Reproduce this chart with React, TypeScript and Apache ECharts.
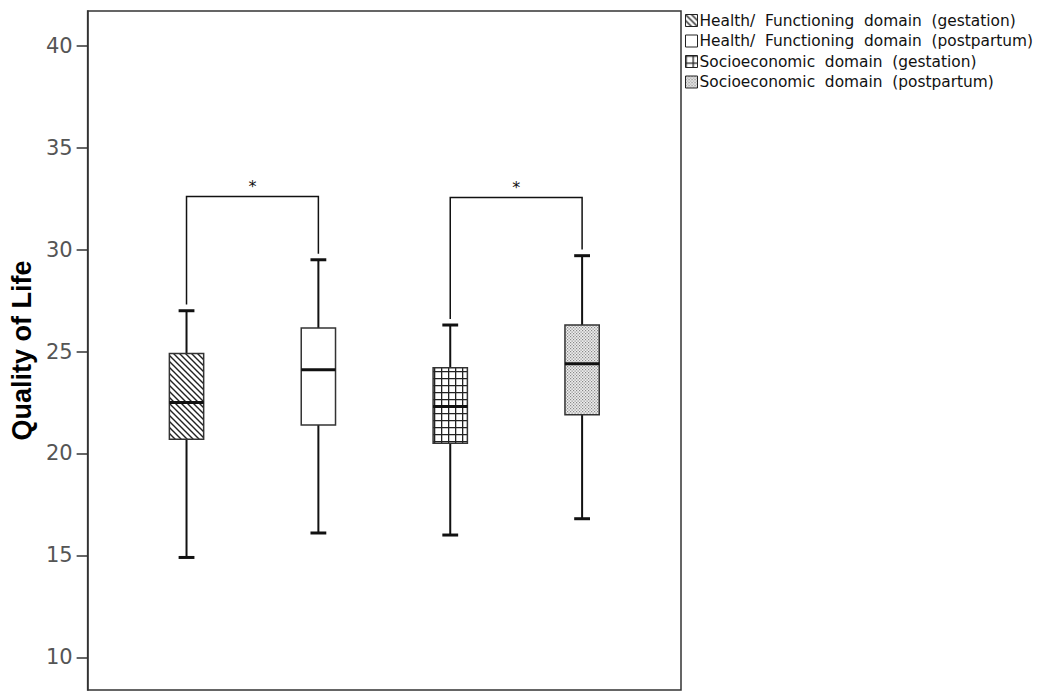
import React, { useEffect, useRef } from "react";
import * as echarts from "echarts";

const groupNames = [
  "Health/  Functioning  domain  (gestation)",
  "Health/  Functioning  domain  (postpartum)",
  "Socioeconomic  domain  (gestation)",
  "Socioeconomic  domain  (postpartum)",
];
const positions = [0.75, 1.75, 2.75, 3.75];
const whiskerLow = [14.9, 16.1, 16.0, 16.8];
const q1Values = [20.7, 21.4, 20.5, 21.9];
const medianValues = [22.5, 24.1, 22.3, 24.4];
const q3Values = [24.9, 26.15, 24.2, 26.3];
const whiskerHigh = [27.0, 29.5, 26.3, 29.7];

const yTicks = [10, 15, 20, 25, 30, 35, 40];

const bracketFrom = [0, 2];
const bracketTo = [1, 3];
const bracketLeftEnd = [27.3, 26.6];
const bracketRightEnd = [29.8, 30.0];
const bracketTop = [32.6, 32.55];
const bracketLabel = ["*", "*"];

const svgUrl = (s: string) => "data:image/svg+xml;charset=utf-8," + encodeURIComponent(s);

const patterns = [
  {
    image: svgUrl(
      '<svg xmlns="http://www.w3.org/2000/svg" width="6" height="6"><rect width="6" height="6" fill="#fff"/><path d="M-1,-1 L7,7 M-4,2 L2,8 M2,-4 L8,2" stroke="#222" stroke-width="1.4"/></svg>'
    ),
    imageWidth: 6,
    imageHeight: 6,
    repeat: "repeat",
  },
  "#ffffff",
  {
    image: svgUrl(
      '<svg xmlns="http://www.w3.org/2000/svg" width="7" height="7"><rect width="7" height="7" fill="#fff"/><path d="M0,0.6 H7 M0.6,0 V7" stroke="#222" stroke-width="1.4"/></svg>'
    ),
    imageWidth: 7,
    imageHeight: 7,
    repeat: "repeat",
  },
  {
    image: svgUrl(
      '<svg xmlns="http://www.w3.org/2000/svg" width="3" height="3"><rect width="3" height="3" fill="#eeeeee"/><rect x="0" y="0" width="1.2" height="1.2" fill="#888"/><rect x="1.5" y="1.5" width="1.2" height="1.2" fill="#888"/></svg>'
    ),
    imageWidth: 3,
    imageHeight: 3,
    repeat: "repeat",
  },
];

const BOX_W = 0.26;
const CAP_W = 0.12;

export default function App() {
  const ref = useRef<HTMLDivElement>(null);
  useEffect(() => {
    if (!ref.current) return;
    const chart = echarts.init(ref.current, null, { renderer: "svg" });

    const boxSeries = groupNames.map((name, i) => ({
      type: "custom",
      name,
      itemStyle: { color: patterns[i] as any, borderColor: "#222", borderWidth: 1 },
      data: [[positions[i], whiskerLow[i], q1Values[i], medianValues[i], q3Values[i], whiskerHigh[i]]],
      renderItem: (params: any, api: any) => {
        const x = api.value(0);
        const lo = api.coord([x, api.value(1)]);
        const q1 = api.coord([x, api.value(2)]);
        const med = api.coord([x, api.value(3)]);
        const q3 = api.coord([x, api.value(4)]);
        const hi = api.coord([x, api.value(5)]);
        const bw = api.size([BOX_W, 0])[0];
        const cw = api.size([CAP_W, 0])[0];
        const cx = lo[0];
        const line = (x1: number, y1: number, x2: number, y2: number, w: number) => ({
          type: "line",
          shape: { x1, y1, x2, y2 },
          style: { stroke: "#111", lineWidth: w },
        });
        return {
          type: "group",
          children: [
            line(cx, hi[1], cx, q3[1], 2),
            line(cx, q1[1], cx, lo[1], 2),
            line(cx - cw / 2, hi[1], cx + cw / 2, hi[1], 3),
            line(cx - cw / 2, lo[1], cx + cw / 2, lo[1], 3),
            {
              type: "rect",
              shape: { x: cx - bw / 2, y: q3[1], width: bw, height: q1[1] - q3[1] },
              style: { fill: patterns[i] as any, stroke: "#333", lineWidth: 1.5 },
            },
            line(cx - bw / 2, med[1], cx + bw / 2, med[1], 3),
          ],
        };
      },
    }));

    const bracketSeries = {
      type: "custom",
      name: "brackets",
      silent: true,
      data: bracketFrom.map((f, i) => [
        positions[f],
        positions[bracketTo[i]],
        bracketLeftEnd[i],
        bracketRightEnd[i],
        bracketTop[i],
      ]),
      renderItem: (params: any, api: any) => {
        const i = params.dataIndex;
        const a = api.coord([api.value(0), api.value(2)]);
        const b = api.coord([api.value(1), api.value(3)]);
        const ta = api.coord([api.value(0), api.value(4)]);
        const tb = api.coord([api.value(1), api.value(4)]);
        return {
          type: "group",
          children: [
            {
              type: "polyline",
              shape: { points: [a, ta, tb, b] },
              style: { stroke: "#111", lineWidth: 1.5, fill: "none" },
            },
            {
              type: "text",
              x: (ta[0] + tb[0]) / 2,
              y: ta[1] - 2,
              style: {
                text: bracketLabel[i],
                fontSize: 16,
                fontFamily: "DejaVu Sans",
                fill: "#111",
                align: "center",
                verticalAlign: "bottom",
              },
            },
          ],
        };
      },
    };

    chart.setOption({
      animation: false,
      backgroundColor: "#ffffff",
      grid: {
        left: 86,
        top: 11,
        right: 357,
        bottom: 1,
        show: true,
        borderColor: "#333",
        borderWidth: 1.5,
        containLabel: false,
      },
      legend: {
        data: groupNames,
        orient: "vertical",
        left: 680,
        top: 8,
        itemWidth: 12,
        itemHeight: 12,
        itemGap: 5.5,
        icon: "rect",
        selectedMode: false,
        textStyle: {
          fontSize: 15.4,
          lineHeight: 14,
          fontFamily: "DejaVu Sans",
          color: "#111",
          padding: [0, 0, 0, -3],
        },
        itemStyle: { borderColor: "#222", borderWidth: 1 },
      },
      xAxis: {
        type: "value",
        min: 0,
        max: 4.5,
        show: false,
      },
      yAxis: {
        type: "value",
        min: 8.4,
        max: 41.7,
        name: "Quality of Life",
        nameLocation: "middle",
        nameGap: 50,
        nameTextStyle: { fontSize: 27, fontWeight: "bold", fontFamily: "Liberation Sans", color: "#000" },
        axisLine: { show: true, lineStyle: { color: "#333", width: 1.5 } },
        axisTick: { show: true, length: 11, customValues: yTicks, lineStyle: { color: "#333", width: 1.5 } },
        axisLabel: {
          customValues: yTicks,
          fontSize: 21,
          fontFamily: "DejaVu Sans",
          color: "#555",
          margin: 15,
        },
        splitLine: { show: false },
      },
      series: [...boxSeries, bracketSeries],
    } as any);
    return () => chart.dispose();
  }, []);
  return (
    <div
      ref={ref}
      style={{ position: "absolute", left: 0, top: 0, width: 1038, height: 691, background: "#fff" }}
    />
  );
}
